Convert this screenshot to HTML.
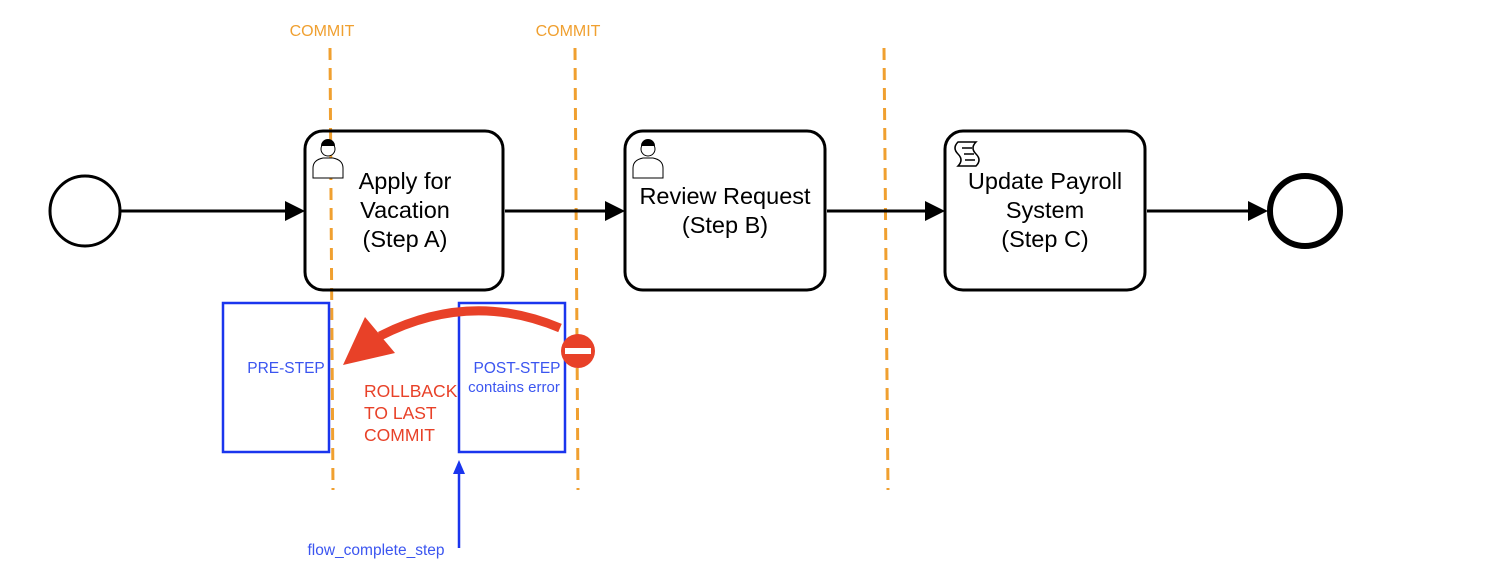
<!DOCTYPE html>
<html><head><style>body{margin:0;background:#fff}svg{display:block}text{font-family:"Liberation Sans",sans-serif}</style></head><body>
<svg width="1502" height="570" viewBox="0 0 1502 570" xmlns="http://www.w3.org/2000/svg">
<g stroke="#f0a030" stroke-width="3" stroke-dasharray="12,8" fill="none">
<line x1="330" y1="48" x2="333" y2="490"/>
<line x1="575" y1="48" x2="578" y2="490"/>
<line x1="884" y1="48" x2="888" y2="490"/>
</g>
<text x="322" y="36" font-size="16" fill="#f0a030" text-anchor="middle">COMMIT</text>
<text x="568" y="36" font-size="16" fill="#f0a030" text-anchor="middle">COMMIT</text>
<g stroke="#000" stroke-width="3" fill="none">
<circle cx="85" cy="211" r="35"/>
<line x1="120" y1="211" x2="288" y2="211"/>
<line x1="505" y1="211" x2="608" y2="211"/>
<line x1="827" y1="211" x2="928" y2="211"/>
<line x1="1147" y1="211" x2="1250" y2="211"/>
<circle cx="1305" cy="211" r="35" stroke-width="6"/>
</g>
<g fill="#000">
<polygon points="285,201 305,211 285,221"/>
<polygon points="605,201 625,211 605,221"/>
<polygon points="925,201 945,211 925,221"/>
<polygon points="1248,201 1268,211 1248,221"/>
</g>
<g stroke="#000" stroke-width="3" fill="none">
<rect x="305" y="131" width="198" height="159" rx="18"/>
<rect x="625" y="131" width="200" height="159" rx="18"/>
<rect x="945" y="131" width="200" height="159" rx="18"/>
</g>
<g stroke="#000" stroke-width="1" fill="#fff">
<path d="M313,178 v-10 q0,-8 10,-10 h10 q10,2 10,10 v10 z"/>
<circle cx="328" cy="149" r="7"/>
<path d="M633,178 v-10 q0,-8 10,-10 h10 q10,2 10,10 v10 z"/>
<circle cx="648" cy="149" r="7"/>
</g>
<path d="M321,146 a7,7 0 0 1 14,0 z M641,146 a7,7 0 0 1 14,0 z" fill="#000"/>
<g stroke="#000" stroke-width="1.5" fill="#fff">
<path d="M958,142 h18 q-6,6 0,12 q6,6 0,12 h-18 q6,-6 0,-12 q-6,-6 0,-12 z"/>
<line x1="962" y1="148" x2="972" y2="148"/><line x1="964" y1="154" x2="974" y2="154"/><line x1="965" y1="160" x2="975" y2="160"/>
</g>
<g font-size="23.5" fill="#000" text-anchor="middle">
<text x="405" y="189">Apply for</text><text x="405" y="218">Vacation</text><text x="405" y="247">(Step A)</text>
<text x="725" y="204">Review Request</text><text x="725" y="233">(Step B)</text>
<text x="1045" y="189">Update Payroll</text><text x="1045" y="218">System</text><text x="1045" y="247">(Step C)</text>
</g>
<g stroke="#1a35ee" stroke-width="2.5" fill="none">
<rect x="223" y="303" width="106" height="149"/>
<rect x="459" y="303" width="106" height="149"/>
<line x1="459" y1="548" x2="459" y2="472"/>
</g>
<polygon points="453,474 459,460 465,474" fill="#1a35ee"/>
<g fill="#3b55f0" font-size="15.5" text-anchor="middle">
<text x="286" y="373">PRE-STEP</text>
<text x="517" y="373">POST-STEP</text>
<text x="514" y="392" font-size="15">contains error</text>
<text x="376" y="555">flow_complete_step</text>
</g>
<path d="M560,328 Q470,290 380,336" stroke="#e84128" stroke-width="9" fill="none"/>
<polygon points="343,365 365,317 395,353" fill="#e84128"/>
<circle cx="578" cy="351" r="17" fill="#e84128"/>
<rect x="565" y="348" width="26" height="6" fill="#fff"/>
<g fill="#e84128" font-size="17.5">
<text x="364" y="397">ROLLBACK</text><text x="364" y="419">TO LAST</text><text x="364" y="441">COMMIT</text>
</g>
</svg>
</body></html>
